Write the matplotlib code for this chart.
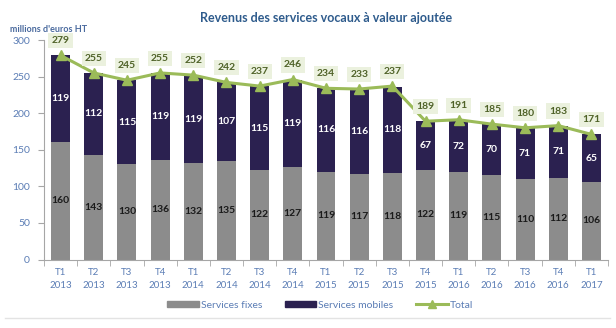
import matplotlib
matplotlib.use("Agg")
import matplotlib.pyplot as plt
from matplotlib.lines import Line2D
from matplotlib.patches import Patch
import numpy as np

plt.rcParams['font.family'] = ['Lato', 'DejaVu Sans']

quarters = ["T1\n2013", "T2\n2013", "T3\n2013", "T4\n2013",
            "T1\n2014", "T2\n2014", "T3\n2014", "T4\n2014",
            "T1\n2015", "T2\n2015", "T3\n2015", "T4\n2015",
            "T1\n2016", "T2\n2016", "T3\n2016", "T4\n2016",
            "T1\n2017"]
services_fixes = [160, 143, 130, 136, 132, 135, 122, 127, 119, 117, 118, 122, 119, 115, 110, 112, 106]
services_mobiles = [119, 112, 115, 119, 119, 107, 115, 119, 116, 116, 118, 67, 72, 70, 71, 71, 65]
total = [279, 255, 245, 255, 252, 242, 237, 246, 234, 233, 237, 189, 191, 185, 180, 183, 171]
y_ticks = [0, 50, 100, 150, 200, 250, 300]

c_fix = "#8c8c8c"
c_mob = "#2b2150"
c_tot = "#9bbb59"
c_tick = "#5b7db5"

fig = plt.figure(figsize=(6.16, 3.28), dpi=100)
ax = fig.add_axes([44 / 616, 1 - 259.5 / 328, 564 / 616, 219.5 / 328])

x = np.arange(len(quarters))
w = 0.57
ax.bar(x, services_fixes, w, color=c_fix, zorder=2)
ax.bar(x, services_mobiles, w, bottom=services_fixes, color=c_mob, zorder=2)
ax.plot(x, total, color=c_tot, lw=2.2, marker="^", ms=7, zorder=4)

for xi, f, m, t in zip(x, services_fixes, services_mobiles, total):
    ax.text(xi, f / 2, str(f), ha="center", va="center", fontsize=7.5,
            color="#1a1a1a", fontweight="bold", zorder=5)
    ax.text(xi, f + m / 2, str(m), ha="center", va="center", fontsize=7.5,
            color="white", fontweight="bold", zorder=5)
    ax.annotate(str(t), (xi, t), xytext=(0, 10.5), textcoords="offset points",
                ha="center", va="center", fontsize=7.5, color="#4f6228",
                fontweight="bold", zorder=6,
                bbox=dict(boxstyle="square,pad=0.3", fc="#ebf1de", ec="none"))

ax.set_xlim(-0.5, len(quarters) - 0.5)
ax.set_ylim(0, 300)
ax.set_yticks(y_ticks)
ax.set_yticklabels([str(v) for v in y_ticks], color=c_tick, fontsize=7.5)
ax.tick_params(axis="y", length=4, color="#a6a6a6", pad=6)

ax.set_xticks(x)
ax.set_xticklabels(quarters, color=c_tick, fontsize=7, linespacing=1.6)
ax.tick_params(axis="x", length=0, pad=6)
ax.set_xticks(np.arange(-0.5, len(quarters)), minor=True)
ax.tick_params(axis="x", which="minor", length=4, color="#a6a6a6")

for s in ["top", "right"]:
    ax.spines[s].set_visible(False)
ax.spines["left"].set_color("#a6a6a6")
ax.spines["bottom"].set_color("#a6a6a6")

fig.text(0.53, 1 - 18 / 328, "Revenus des services vocaux à valeur ajoutée",
         ha="center", va="center", fontsize=9, fontweight="bold", color="#2e5b8c")
fig.text(10 / 616, 1 - 29.5 / 328, "millions d'euros HT", ha="left", va="center",
         fontsize=6.5, fontweight="bold", color="#4a6a9e")

handles = [Patch(color=c_fix), Patch(color=c_mob),
           Line2D([0], [0], color=c_tot, lw=2.2, marker="^", ms=6)]
labels = ["Services fixes", "Services mobiles", "Total"]
leg = fig.legend(handles, labels, loc="center", bbox_to_anchor=(0.52, 1 - 305 / 328),
                 ncol=3, frameon=False, fontsize=7.5, handlelength=3.0,
                 handleheight=0.6, handletextpad=0.2, columnspacing=2.2)
for t in leg.get_texts():
    t.set_color(c_tick)

fig.add_artist(Line2D([5 / 616, 610 / 616], [1 - 318 / 328] * 2, color="#e3e3e3", lw=1))

fig.savefig("out.png", dpi=100)
